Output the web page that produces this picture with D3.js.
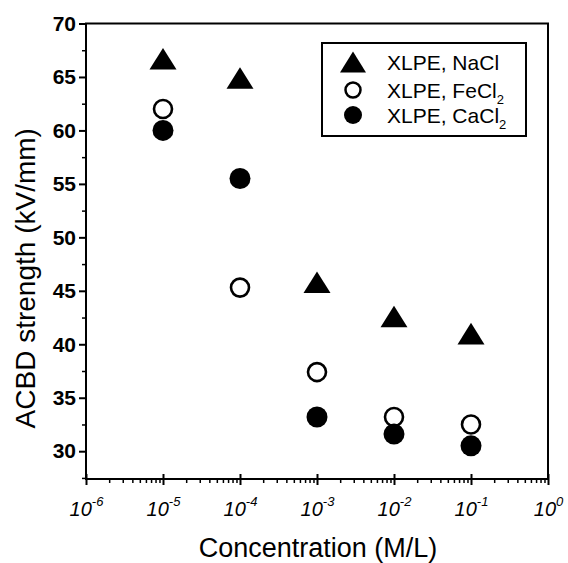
<!DOCTYPE html>
<html><head><meta charset="utf-8">
<script src="https://cdn.jsdelivr.net/npm/d3@7"></script>
<style>
body{margin:0;background:#fff;}
text{font-family:"Liberation Sans",Arial,sans-serif;fill:#000;}
</style></head>
<body><svg id="c" width="568" height="563"></svg>
<script>
const concentrations = [1e-5, 1e-4, 1e-3, 1e-2, 1e-1];
const naclValues = [66.7, 64.9, 45.8, 42.6, 41.0];
const fecl2Values = [62.0, 45.3, 37.4, 33.2, 32.5];
const cacl2Values = [60.0, 55.5, 33.2, 31.6, 30.5];
const yTicks = [30, 35, 40, 45, 50, 55, 60, 65, 70];
const xTickExps = [-6, -5, -4, -3, -2, -1, 0];
const seriesNames = ["XLPE, NaCl", "XLPE, FeCl", "XLPE, CaCl"];

const svg = d3.select("#c");
const L = 86, R = 548, T = 23.5, B = 479;
const x = d3.scaleLog().domain([1e-6, 1]).range([L, R]);
const y = d3.scaleLinear().domain([27.4, 70]).range([B, T]);

// frame
svg.append("rect").attr("x", L).attr("y", T).attr("width", R - L).attr("height", B - T)
  .attr("fill", "none").attr("stroke", "#000").attr("stroke-width", 2);

// y axis
const yMinor = d3.range(27.5, 70, 2.5).filter(v => v % 5 !== 0);
const yAxis = svg.append("g").attr("transform", `translate(${L},0)`)
  .call(d3.axisLeft(y).tickValues(yTicks).tickSize(7).tickPadding(3).tickFormat(d3.format("d")));
yAxis.select(".domain").remove();
yAxis.selectAll("line").attr("stroke-width", 2);
yAxis.selectAll("text").attr("font-size", 21).attr("font-weight", "bold").attr("fill", "#111");
const yAxisMinor = svg.append("g").attr("transform", `translate(${L},0)`)
  .call(d3.axisLeft(y).tickValues(yMinor).tickSize(4).tickFormat(""));
yAxisMinor.select(".domain").remove();
yAxisMinor.selectAll("line").attr("stroke-width", 1.5);

// x axis
const xMajor = xTickExps.map(e => Math.pow(10, e));
const xMinor = [];
for (let e = -6; e < 0; e++) for (let k = 2; k <= 9; k++) xMinor.push(k * Math.pow(10, e));
const xAxis = svg.append("g").attr("transform", `translate(0,${B})`)
  .call(d3.axisBottom(x).tickValues(xMajor).tickSize(6).tickFormat(""));
xAxis.select(".domain").remove();
xAxis.selectAll("line").attr("stroke-width", 2).attr("y1", -5);
const xAxisMinor = svg.append("g").attr("transform", `translate(0,${B})`)
  .call(d3.axisBottom(x).tickValues(xMinor).tickSize(4).tickFormat(""));
xAxisMinor.select(".domain").remove();
xAxisMinor.selectAll("line").attr("stroke-width", 1.5);

xAxis.selectAll(".tick").each(function(d, i) {
  const t = d3.select(this).append("text").attr("y", 37).attr("text-anchor", "middle")
    .attr("font-size", 20).attr("fill", "#111").attr("font-style", "italic");
  t.append("tspan").text("10");
  t.append("tspan").attr("font-size", 13).attr("dy", -10).text(xTickExps[i] < 0 ? "-" + (-xTickExps[i]) : "" + xTickExps[i]);
});

// axis titles
svg.append("text").attr("x", (L + R) / 2 + 1).attr("y", 557).attr("text-anchor", "middle")
  .attr("font-size", 27).text("Concentration (M/L)");
svg.append("text").attr("transform", `translate(35,${(T + B) / 2 + 27}) rotate(-90)`)
  .attr("text-anchor", "middle").attr("font-size", 28).text("ACBD strength (kV/mm)");

// markers
function triPath(w) { const h = w * 0.8; return `M0,${-h/2}L${w/2},${h/2}L${-w/2},${h/2}Z`; }
const g = svg.append("g");
g.selectAll(".na").data(concentrations).join("path").attr("class", "na")
  .attr("transform", (d, i) => `translate(${x(d)},${y(naclValues[i])})`)
  .attr("d", triPath(27)).attr("fill", "#000");
g.selectAll(".fe").data(concentrations).join("circle").attr("class", "fe")
  .attr("cx", d => x(d)).attr("cy", (d, i) => y(fecl2Values[i])).attr("r", 9)
  .attr("fill", "#fff").attr("stroke", "#000").attr("stroke-width", 2.6);
g.selectAll(".ca").data(concentrations).join("circle").attr("class", "ca")
  .attr("cx", d => x(d)).attr("cy", (d, i) => y(cacl2Values[i])).attr("r", 10.5)
  .attr("fill", "#000");

// legend
const lg = svg.append("g");
lg.append("rect").attr("x", 322).attr("y", 43).attr("width", 204).attr("height", 93)
  .attr("fill", "#fff").attr("stroke", "#000").attr("stroke-width", 2);
const rows = [62, 90, 115];
lg.append("path").attr("transform", `translate(353,${rows[0]})`).attr("d", triPath(26)).attr("fill", "#000");
lg.append("circle").attr("cx", 353).attr("cy", rows[1]).attr("r", 7.5).attr("fill", "#fff").attr("stroke", "#000").attr("stroke-width", 2.5);
lg.append("circle").attr("cx", 353).attr("cy", rows[2]).attr("r", 9).attr("fill", "#000");
seriesNames.forEach((n, i) => {
  const t = lg.append("text").attr("x", 387).attr("y", rows[i] + 8).attr("font-size", 21).text(n);
  if (i > 0) t.append("tspan").attr("font-size", 13).attr("dy", 6).text("2");
});
</script></body></html>
